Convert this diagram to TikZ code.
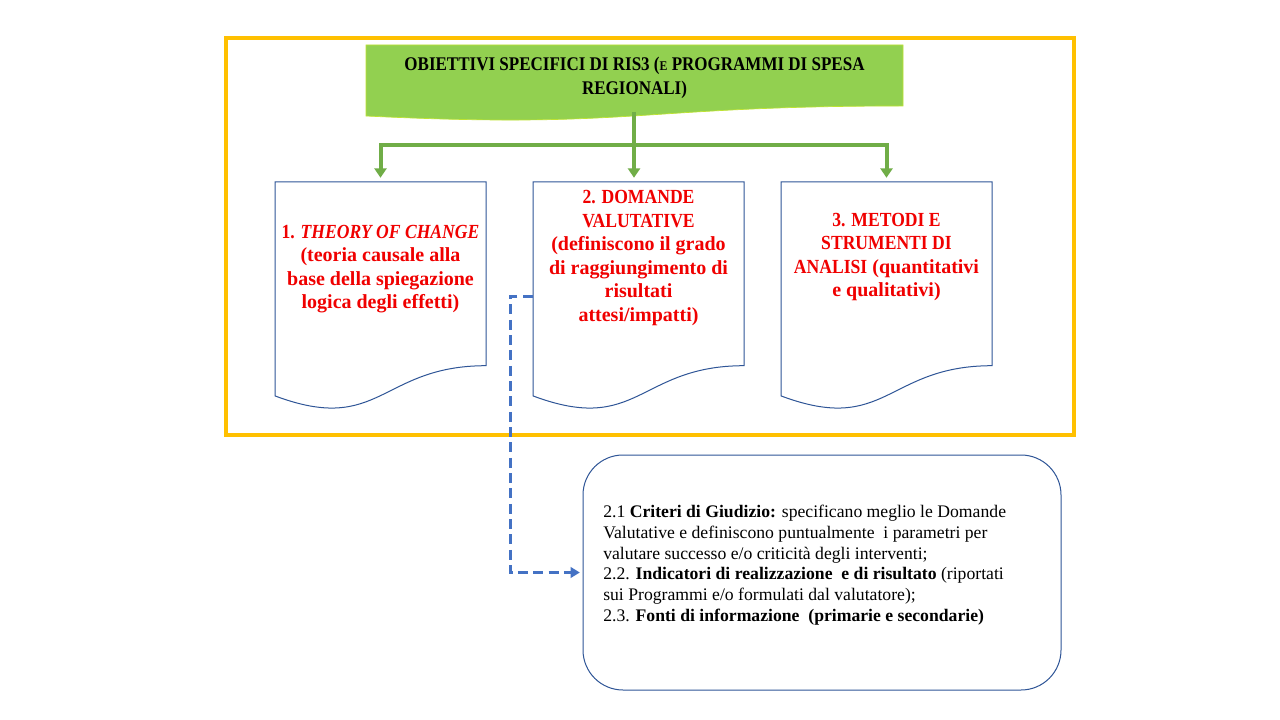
\documentclass[tikz,border=0pt]{standalone}
\usepackage{fontspec}
\usepackage{graphicx}
\setmainfont{Liberation Serif}
\newfontfamily\bannerfont[FakeStretch=0.88]{Liberation Serif}
\usetikzlibrary{arrows.meta}
\definecolor{ybord}{HTML}{FFC000}
\definecolor{gfill}{HTML}{92D050}
\definecolor{gline}{HTML}{70AD47}
\definecolor{dblue}{HTML}{2F5597}
\definecolor{dashblue}{HTML}{4472C4}
\definecolor{redtxt}{HTML}{F00000}
\newcommand{\cp}[1]{\scalebox{0.88}[1]{#1}}
\tikzset{
  docbox/.style={minimum width=158.25pt, minimum height=171.75pt, inner sep=0pt, draw=none},
  docline/.style={draw=dblue, line width=0.75pt, fill=white},
  doctext/.style={text=redtxt, align=center, font=\fontsize{15pt}{17.6pt}\selectfont\bfseries, inner sep=0pt},
  garrow/.style={draw=gline, line width=3pt, -{Triangle[length=7pt,width=9pt]}, shorten >=3pt},
}
\begin{document}
\begin{tikzpicture}[x=0.75pt,y=-0.75pt]
\useasboundingbox (0,0) rectangle (1280,720);
\fill[white] (0,0) rectangle (1280,720);
% yellow frame
\draw[ybord, line width=3pt] (226,38) rectangle (1074,435);
% banner
\fill[gfill, draw=gfill!60!yellow, line width=0.5pt] (366,45) -- (903,45) -- (903,106) .. controls (634.5,106) and (634.5,129.1) .. (366,116) -- cycle;
\node[align=center, inner sep=0pt, font=\bannerfont\fontsize{14.5pt}{18pt}\selectfont\bfseries] (banner) at (634.5,78)
  {OBIETTIVI SPECIFICI DI RIS3 ({\fontsize{10pt}{18pt}\selectfont E} PROGRAMMI DI SPESA\\REGIONALI)};
\coordinate (bannerbot) at (634,112);
\coordinate (split) at (634,145);
% documents
\foreach \n/\L in {1/275, 2/533, 3/781} {
  \node[docbox] (d\n) at ({\L+105.5},296.5) {};
  \path[docline] (\L,182) -- ({\L+211},182) -- ({\L+211},365.7) .. controls ({\L+105.5},365.7) and ({\L+105.5},435.5) .. (\L,395.9) -- cycle;
}
\node[doctext] (t1) at (380.5,269) {\cp{1. \textit{THEORY OF CHANGE}}\\(teoria causale alla\\base della spiegazione\\logica degli effetti)};
\node[doctext] (t2) at (638.5,258) {\cp{2. DOMANDE}\\\cp{VALUTATIVE}\\(definiscono il grado\\di raggiungimento di\\risultati\\attesi/impatti)};
\node[doctext] (t3) at (886.5,257) {\cp{3. METODI E}\\\cp{STRUMENTI DI}\\\cp{ANALISI} (quantitativi\\e qualitativi)};
% green connectors
\draw[draw=gline, line width=3pt] (bannerbot) -- (split);
\draw[garrow] (split) -- (split |- d2.north);
\draw[garrow] (split) -| (d1.north);
\draw[garrow] (split) -| (d3.north);
% bottom rounded box
\node[draw=dblue, line width=0.75pt, rounded corners=30pt, minimum width=358.5pt, minimum height=176.25pt, fill=white] (crit) at (822,572.5) {};
\node[anchor=west, align=left, inner sep=0pt, font=\fontsize{13.25pt}{15.5pt}\selectfont] (crittext) at (603,565)
{2.1 \textbf{Criteri di Giudizio:} specificano meglio le Domande\\
Valutative e definiscono puntualmente \ i parametri per\\
valutare successo e/o criticità degli interventi;\\
2.2. \textbf{Indicatori di realizzazione \ e di risultato} (riportati\\
sui Programmi e/o formulati dal valutatore);\\
2.3. \textbf{Fonti di informazione \ (primarie e secondarie)}};
% dashed connector
\coordinate (dleft) at (510,296.5);
\draw[dashblue, line width=2.25pt, dash pattern=on 7.5pt off 4pt, -{Triangle[length=7pt,width=8pt]}, shorten >=2pt] (d2.west) -- (dleft) |- (crit.west);
\end{tikzpicture}
\end{document}
